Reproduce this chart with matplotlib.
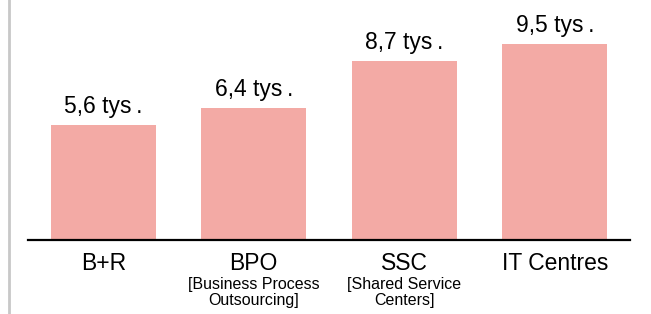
import matplotlib
matplotlib.use("Agg")
import matplotlib.pyplot as plt
from matplotlib.transforms import blended_transform_factory
from matplotlib.lines import Line2D

categories = ["B+R", "BPO", "SSC", "IT Centres"]
subtitles = [[], ["[Business Process", "Outsourcing]"], ["[Shared Service", "Centers]"], []]
values = [5.6, 6.4, 8.7, 9.5]
value_labels = ["5,6 tys\u2009.", "6,4 tys\u2009.", "8,7 tys\u2009.", "9,5 tys\u2009."]

plt.rcParams['font.family'] = ['Liberation Sans', 'DejaVu Sans']

W, H = 651, 314
fig = plt.figure(figsize=(W/100, H/100), dpi=100)
ax = fig.add_axes([28/W, 1 - 240/H, 602/W, 240/H])

x = list(range(len(categories)))
ax.bar(x, values, width=0.70, color="#F3AAA5")
ax.set_xlim(-0.5, 3.5)
ax.set_ylim(0, 240/20.6)
for s in ["top", "right", "left"]:
    ax.spines[s].set_visible(False)
ax.spines["bottom"].set_color("black")
ax.spines["bottom"].set_linewidth(1.6)
ax.set_xticks([])
ax.set_yticks([])

for xi, v, lab in zip(x, values, value_labels):
    ax.annotate(lab, (xi, v), xytext=(0, 8.6), textcoords="offset points",
                ha="center", va="baseline", fontsize=16.5, color="black")

tr = blended_transform_factory(ax.transData, fig.transFigure)
sub_baselines = [288.5, 305.5]
for xi, c, s in zip(x, categories, subtitles):
    ax.text(xi, 1 - 269.5/H, c, transform=tr, ha="center", va="baseline",
            fontsize=16.5, color="black")
    for line, yb in zip(s, sub_baselines):
        ax.text(xi, 1 - yb/H, line, transform=tr, ha="center", va="baseline",
                fontsize=11.5, color="black")

fig.add_artist(Line2D([8.5/W, 8.5/W], [0, 1], transform=fig.transFigure,
                      color="#c8c8c8", linewidth=2))

fig.savefig("out.png", dpi=100)
